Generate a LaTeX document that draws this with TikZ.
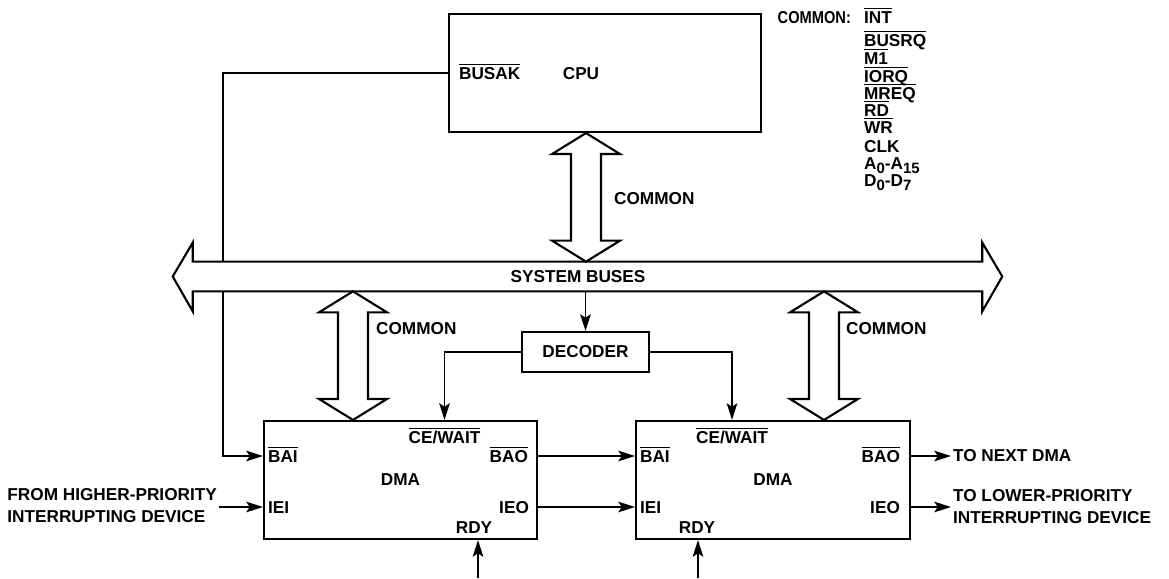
\documentclass[tikz,border=0pt]{standalone}
\usepackage{fontspec}
\setmainfont{Liberation Sans}
\usepackage{graphicx}
\usetikzlibrary{arrows.meta,calc}
\tikzset{
  box/.style={
    draw,
    line width=1.2pt,
    inner sep=0pt
  },
  port/.style={
    inner sep=1pt,
    text height=7pt,
    text depth=0pt
  },
  note/.style={
    inner sep=1pt,
    align=left
  },
  flow/.style={
    -{Stealth[length=9.5pt,width=6pt,inset=2pt]},
    line width=1.1pt
  },
  fatarrow/.style={
    draw,
    fill=white,
    line width=1.2pt,
    line join=miter
  }
}
\newcommand{\low}[1]{$\overline{\mbox{#1}}$}
\newcommand{\idx}[1]{\raisebox{-2.5pt}{\fontsize{8.5}{9}\selectfont #1}}

\begin{document}
\begin{tikzpicture}[x=0.02cm, y=-0.02cm, font=\bfseries\fontsize{9.8}{12.5}\selectfont]
  \useasboundingbox (0,0) rectangle (1169,578);

  % blocks
  \node[box, minimum width=6.24cm, minimum height=2.36cm] (cpu) at (605,73) {};
  \node[box, minimum width=2.54cm, minimum height=0.8cm] (decoder) at (585.5,352) {DECODER};
  \node[box, minimum width=5.46cm, minimum height=2.36cm] (dma1) at (400.5,480) {DMA};
  \node[box, minimum width=5.48cm, minimum height=2.36cm] (dma2) at (773,480) {DMA};
  \node[minimum width=15.78cm, minimum height=0.58cm, inner sep=0pt] (bus) at (587.5,276.5) {};

  % CPU
  \node[port, anchor=west] (busak) at (457,73) {\low{BUSAK}};
  \node[port] (cpulbl) at (581,73) {CPU};

  % DMA pins
  \node[port, anchor=west] (bai1) at (266,456) {\low{BAI}};
  \node[port, anchor=west] (iei1) at (266,507) {IEI};
  \node[port, anchor=east] (bao1) at (530,456) {\low{BAO}};
  \node[port, anchor=east] (ieo1) at (531,507) {IEO};
  \node[port] (ce1) at (444.5,437) {\low{CE/WAIT}};
  \node[port] (rdy1) at (474,527) {RDY};

  \node[port, anchor=west] (bai2) at (638,456) {\low{BAI}};
  \node[port, anchor=west] (iei2) at (638,507) {IEI};
  \node[port, anchor=east] (bao2) at (902,456) {\low{BAO}};
  \node[port, anchor=east] (ieo2) at (902,507) {IEO};
  \node[port] (ce2) at (732,437) {\low{CE/WAIT}};
  \node[port] (rdy2) at (697,527) {RDY};

  % signal list
  \node[port, anchor=east] (common) at (853,17) {\scalebox{0.85}[1]{COMMON:}};
  \foreach \y/\sig [count=\i] in {17/\low{INT}, 40/\low{BUSRQ}, 58/\low{M1},
      76/\low{IORQ}, 93/\low{MREQ}, 110/\low{RD}, 127/\low{WR}, 146/CLK,
      163/A\idx{0}-A\idx{15}, 180/D\idx{0}-D\idx{7}}
    \node[port, anchor=west] (sig\i) at (862,\y) {\sig};

  % outside texts
  \node[note, anchor=east] (higher) at (219,506) {FROM HIGHER-PRIORITY\\INTERRUPTING DEVICE};
  \node[note, anchor=west] (nextdma) at (951,456) {TO NEXT DMA};
  \node[note, anchor=west] (lower) at (951,507) {TO LOWER-PRIORITY\\INTERRUPTING DEVICE};

  % bus acknowledge chain
  \draw[flow] (cpu.west) -| (223,0 |- bai1) -- (dma1.west |- bai1);

  % system buses
  \draw[fatarrow] (bus.north west) -- (bus.north east) -- ++(0,-19)
    -- ($(bus.east)+(20,0)$) -- ($(bus.south east)+(0,20)$) -- (bus.south east)
    -- (bus.south west) -- ++(0,20) -- ($(bus.west)+(-20,0)$)
    -- ($(bus.north west)+(0,-19)$) -- cycle;
  \node (buslbl) at (578,277) {SYSTEM BUSES};

  \foreach \cx/\from/\to in {586/cpu.south/bus.north, 353/bus.south/dma1.north,
      824/bus.south/dma2.north}
    \draw[fatarrow] (\cx,0 |- \from) -- ++(34,21) -- ++(-19,0)
      -- ($(\cx+15,0 |- \to)+(0,-21)$) -- ++(19,0) -- (\cx,0 |- \to)
      -- ++(-34,-21) -- ++(19,0)
      -- ($(\cx-15,0 |- \from)+(0,21)$) -- ++(-19,0) -- cycle;
  \node[port, anchor=west] (comm1) at (612,198) {COMMON};
  \node[port, anchor=west] (comm2) at (374,328) {COMMON};
  \node[port, anchor=west] (comm3) at (844,328) {COMMON};

  % decoder
  \draw[flow] (decoder.north |- bus.south) -- (decoder.north);
  \draw[flow] (decoder.west) -| (ce1.north |- dma1.north);
  \draw[flow] (decoder.east) -| (ce2.north |- dma2.north);

  % daisy chains
  \draw[flow] (dma1.east |- bao1) -- (dma2.west |- bai2);
  \draw[flow] (dma1.east |- ieo1) -- (dma2.west |- iei2);
  \draw[flow] (dma2.east |- bao2) -- (nextdma.west);
  \draw[flow] (dma2.east |- ieo2) -- (lower.west |- ieo2);
  \draw[flow] (higher.east |- iei1) -- (dma1.west |- iei1);

  % ready inputs
  \coordinate (rdyin1) at (478,578);
  \coordinate (rdyin2) at (698,578);
  \draw[flow] (rdyin1) -- (rdyin1 |- dma1.south);
  \draw[flow] (rdyin2) -- (rdyin2 |- dma2.south);
\end{tikzpicture}
\end{document}
